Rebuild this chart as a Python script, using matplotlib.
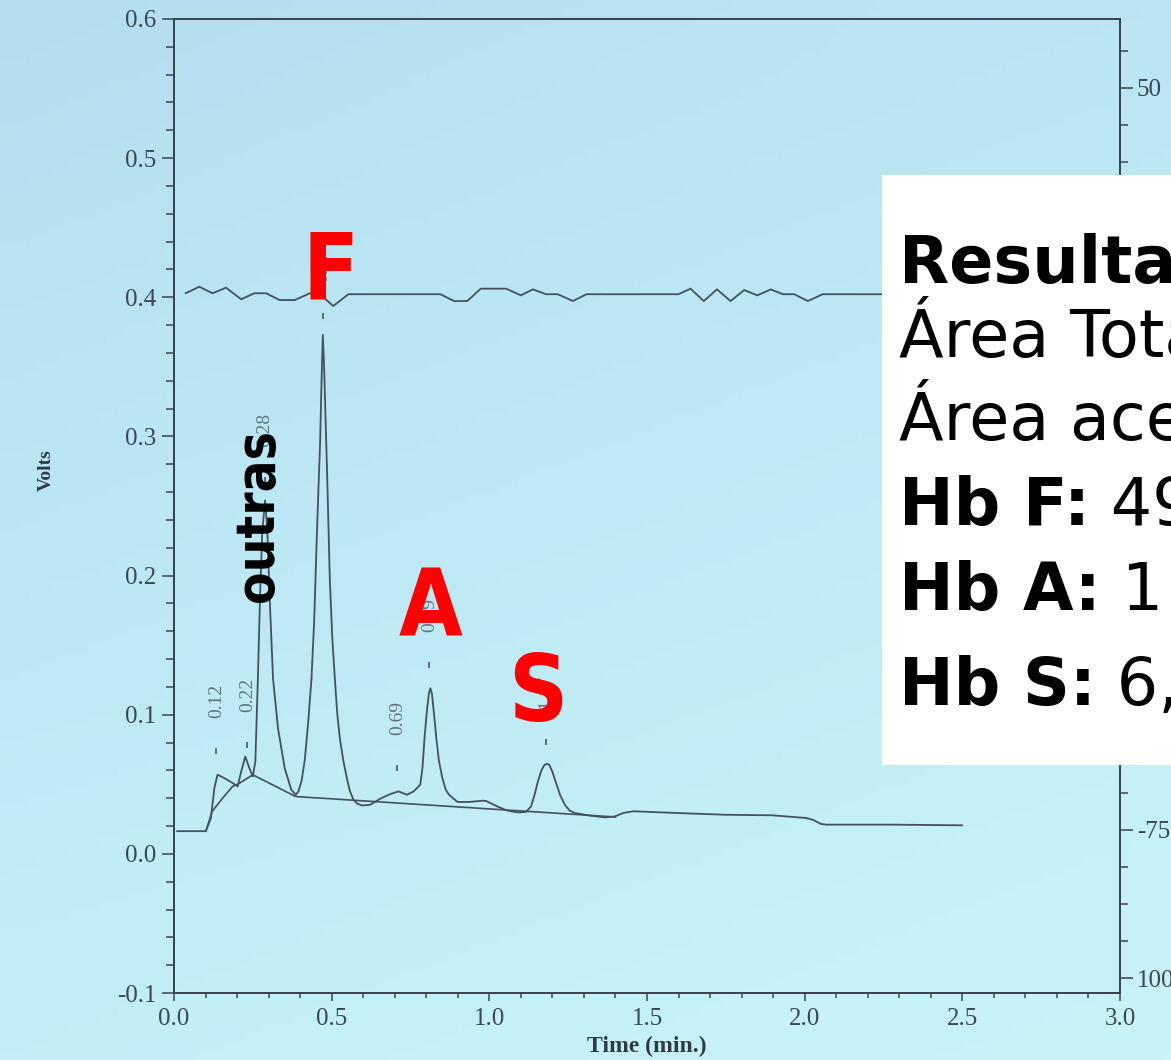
import numpy as np
import matplotlib
matplotlib.use("Agg")
import matplotlib.pyplot as plt
from matplotlib.ticker import MultipleLocator, AutoMinorLocator, FormatStrFormatter, FixedFormatter
from matplotlib.patches import Rectangle
from matplotlib import font_manager as fm

plt.rcParams['axes.unicode_minus'] = False

# --- chromatogram trace (time in min, signal in volts)
sig_t = [0.010, 0.101, 0.117, 0.128, 0.138, 0.159, 0.186, 0.202, 0.213, 0.226,
         0.239, 0.250, 0.258, 0.266, 0.273, 0.280, 0.289, 0.296, 0.303, 0.314,
         0.330, 0.351, 0.372, 0.386, 0.395, 0.405, 0.415, 0.425, 0.436, 0.445,
         0.452, 0.458, 0.463, 0.468, 0.472, 0.476, 0.481, 0.486, 0.494, 0.502,
         0.510, 0.518, 0.526, 0.537, 0.548, 0.558, 0.569, 0.582, 0.596, 0.622,
         0.654, 0.686, 0.712, 0.739, 0.760, 0.781, 0.788, 0.795, 0.803, 0.809,
         0.813, 0.818, 0.824, 0.832, 0.840, 0.851, 0.862, 0.872, 0.899, 0.936,
         0.978, 0.990, 1.026, 1.058, 1.090, 1.116, 1.132, 1.143, 1.154, 1.165,
         1.175, 1.183, 1.190, 1.200, 1.210, 1.225, 1.240, 1.255, 1.271, 1.313,
         1.366, 1.398, 1.425, 1.457, 1.590, 1.749, 1.898, 2.004, 2.026, 2.052,
         2.068, 2.281, 2.499]
sig_v = [0.0163, 0.0163, 0.0258, 0.0473, 0.0569, 0.0545, 0.0509, 0.0485, 0.0591, 0.0699,
         0.0616, 0.0556, 0.0664, 0.126, 0.186, 0.232, 0.254, 0.232, 0.186, 0.126,
         0.090, 0.0616, 0.046, 0.0425, 0.045, 0.053, 0.068, 0.093, 0.126, 0.170,
         0.222, 0.262, 0.293, 0.341, 0.373, 0.350, 0.310, 0.270, 0.198, 0.155,
         0.126, 0.100, 0.083, 0.067, 0.0545, 0.045, 0.0389, 0.036, 0.0348, 0.0353,
         0.0396, 0.043, 0.0449, 0.0425, 0.0449, 0.0497, 0.062, 0.085, 0.105, 0.116,
         0.119, 0.115, 0.102, 0.083, 0.067, 0.0545, 0.046, 0.0425, 0.0373, 0.0373,
         0.0382, 0.0380, 0.034, 0.031, 0.0298, 0.0301, 0.034, 0.042, 0.052, 0.060,
         0.0640, 0.0647, 0.0640, 0.059, 0.052, 0.042, 0.035, 0.031, 0.0294, 0.0277,
         0.0262, 0.0269, 0.0294, 0.0306, 0.0294, 0.0281, 0.0277, 0.0258, 0.0245, 0.0215,
         0.021, 0.021, 0.0205]

# integration baseline
base_t = [0.101, 0.121, 0.154, 0.186, 0.202, 0.250, 0.386, 1.400]
base_v = [0.0163, 0.0305, 0.0400, 0.0485, 0.0500, 0.0568, 0.0412, 0.0265]

# upper (gradient) trace
top_t = [0.037, 0.080, 0.122, 0.165, 0.213, 0.255, 0.292, 0.335, 0.383, 0.431,
         0.460, 0.505, 0.553, 0.845, 0.888, 0.930, 0.973, 1.053, 1.100, 1.138,
         1.180, 1.217, 1.265, 1.308, 1.600, 1.638, 1.680, 1.722, 1.765, 1.808,
         1.850, 1.893, 1.930, 1.967, 2.010, 2.057, 2.500]
top_v = [0.4029, 0.4076, 0.4029, 0.4069, 0.3986, 0.4029, 0.4029, 0.3980, 0.3980, 0.4029,
         0.4029, 0.3937, 0.4022, 0.4022, 0.3973, 0.3973, 0.4062, 0.4062, 0.4014, 0.4057,
         0.4022, 0.4022, 0.3973, 0.4022, 0.4022, 0.4062, 0.3973, 0.4057, 0.3973, 0.4052,
         0.4014, 0.4057, 0.4022, 0.4022, 0.3973, 0.4022, 0.4022]

# retention-time marks above each peak
peak_t = [0.134, 0.233, 0.289, 0.472, 0.708, 0.810, 1.180]
peak_mark_v = [0.0738, 0.078, 0.269, 0.3866, 0.0616, 0.1355, 0.0803]
peak_names = ['0.12', '0.22', '0.28', '0.47', '0.69', '0.79', '1.17']

right_ticks = [-100, -75, -50, -25, 0, 25, 50]
right_labels = ['100', '-75', '-50', '-25', '0', '25', '50']

W, H = 1171, 1060
LINE = '#45515c'
AXC = '#3a4550'
TXT = '#3b4752'


def has_font(name):
    try:
        fm.findfont(fm.FontProperties(family=name), fallback_to_default=False)
        return True
    except ValueError:
        return False


# narrow face for the big slide letters
cond_family = 'DejaVu Sans'
p = fm.findfont(fm.FontProperties(family='DejaVu Sans', stretch='condensed', weight='bold'))
if 'Condensed' not in p:
    cond_family = 'DejaVu Sans Condensed' if has_font('DejaVu Sans Condensed') else 'Liberation Sans'


def condfont(size):
    return fm.FontProperties(family=cond_family, stretch='condensed', weight='bold', size=size)


def boxfont(size, bold=True):
    return fm.FontProperties(family='DejaVu Sans', weight='bold' if bold else 'normal', size=size)


fig = plt.figure(figsize=(W / 100, H / 100), dpi=100)

# photo-like light blue background
bg = fig.add_axes([0, 0, 1, 1], zorder=-10)
yy, xx = np.mgrid[0:1:120j, 0:1:120j]
tl = np.array([180, 222, 240]) / 255
tr = np.array([186, 230, 244]) / 255
bl = np.array([194, 239, 247]) / 255
br = np.array([200, 244, 248]) / 255
img = (tl * ((1 - xx) * (1 - yy))[..., None] + tr * (xx * (1 - yy))[..., None]
       + bl * ((1 - xx) * yy)[..., None] + br * (xx * yy)[..., None])
bg.imshow(img, extent=[0, 1, 0, 1], aspect='auto', origin='upper')
bg.axis('off')

ax = fig.add_axes([174 / W, 1 - 993 / H, (1120 - 174) / W, (993 - 19) / H])
ax.set_facecolor('none')
ax.plot(top_t, top_v, color=LINE, lw=1.3)
ax.plot(base_t, base_v, color=LINE, lw=1.2)
ax.plot(sig_t, sig_v, color=LINE, lw=1.3)
ax.plot(peak_t, peak_mark_v, ls='none', marker='|', ms=5, mew=1.3, color='#55636f')
for t, v, name in zip(peak_t, peak_mark_v, peak_names):
    ax.annotate(name, (t, v), xytext=(0, 36), textcoords='offset points',
                rotation=90, ha='center', va='center', fontsize=14,
                family='Liberation Serif', color='#64737f')

ax.set_xlim(0, 3.0)
ax.set_ylim(-0.1, 0.6)
ax.xaxis.set_major_locator(MultipleLocator(0.5))
ax.xaxis.set_minor_locator(MultipleLocator(0.1))
ax.yaxis.set_major_locator(MultipleLocator(0.1))
ax.yaxis.set_minor_locator(MultipleLocator(0.02))
ax.xaxis.set_major_formatter(FormatStrFormatter('%.1f'))
ax.yaxis.set_major_formatter(FormatStrFormatter('%.1f'))
ax.xaxis.set_ticks_position('bottom')
ax.yaxis.set_ticks_position('left')
for s in ax.spines.values():
    s.set_color(AXC)
    s.set_linewidth(1.4)
ax.tick_params(axis='y', which='major', direction='out', length=8.5, width=1.1,
               color=AXC, pad=4, labelsize=18, labelcolor=TXT)
ax.tick_params(axis='y', which='minor', direction='out', length=5.5, width=1.1, color=AXC)
ax.tick_params(axis='x', which='major', direction='out', length=6, width=1.1,
               color=AXC, pad=5, labelsize=18, labelcolor=TXT)
ax.tick_params(axis='x', which='minor', direction='out', length=3.5, width=1.1, color=AXC)
for lab in ax.get_xticklabels() + ax.get_yticklabels():
    lab.set_family('Liberation Serif')

ax2 = ax.twinx()
ax2.set_ylim(-102.5, 61.6)
ax2.set_yticks(right_ticks)
ax2.yaxis.set_major_formatter(FixedFormatter(right_labels))
ax2.yaxis.set_minor_locator(AutoMinorLocator(4))
ax2.tick_params(axis='y', which='major', direction='out', length=9, width=1.1,
                color=AXC, pad=3, labelsize=18, labelcolor=TXT)
ax2.tick_params(axis='y', which='minor', direction='out', length=5.5, width=1.1, color=AXC)
for lab in ax2.get_yticklabels():
    lab.set_family('Liberation Serif')
for s in ax2.spines.values():
    s.set_color(AXC)
    s.set_linewidth(1.4)

fig.text(46 / W, 1 - 470 / H, 'Volts', rotation=90, ha='center', va='center',
         family='Liberation Serif', weight='bold', fontsize=14, color='#2f3a44')
fig.text(647 / W, 1 - 1046 / H, 'Time (min.)', ha='center', va='center',
         family='Liberation Serif', weight='bold', fontsize=17, color='#2f3a44')

# slide overlay: peak names
for letter, x, y in [('F', 331, 300), ('A', 430, 635), ('S', 538, 721)]:
    fig.text(x / W, 1 - y / H, letter, ha='center', va='baseline', color='#ff0000',
             fontproperties=condfont(66), zorder=22)
fig.text(273 / W, 1 - 516 / H, 'outras', rotation=90, rotation_mode='anchor',
         ha='center', va='baseline', color='black', fontproperties=condfont(38), zorder=22)

# white results box
fig.add_artist(Rectangle((882 / W, 1 - 765 / H), (W - 882) / W + 0.01, (765 - 175) / H,
                         transform=fig.transFigure, facecolor='white',
                         edgecolor='none', zorder=20))
lines = [('Resultados:', '', 283), ('', 'Área Total:', 357), ('', 'Área aceita:', 440),
         ('Hb F:', ' 49', 525), ('Hb A:', ' 1', 610), ('Hb S:', ' 6,', 705)]
fig.canvas.draw()
renderer = fig.canvas.get_renderer()
for bold, reg, y in lines:
    x = 899 / W
    if bold:
        tb = fig.text(x, 1 - y / H, bold, va='baseline', color='black',
                      fontproperties=boxfont(47), zorder=21)
        x = tb.get_window_extent(renderer).x1 / W
    if reg:
        fig.text(x, 1 - y / H, reg, va='baseline', color='black',
                 fontproperties=boxfont(47, bold=False), zorder=21)

fig.savefig('out.png', dpi=100)
